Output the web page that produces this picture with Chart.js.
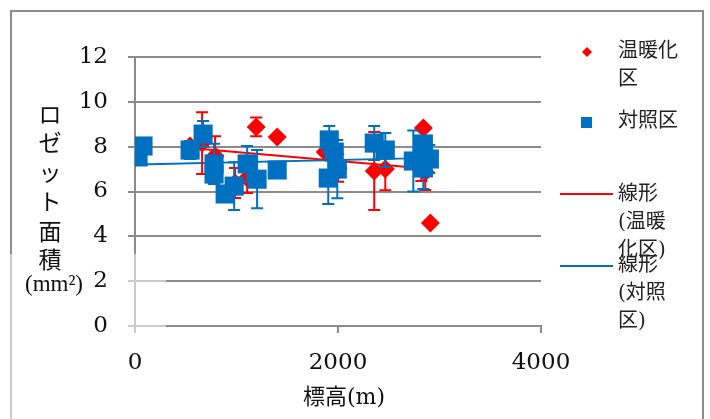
<!DOCTYPE html>
<html>
<head>
<meta charset="utf-8">
<script src="https://cdn.jsdelivr.net/npm/chart.js@4"></script>
<style>
html,body{margin:0;padding:0;background:#fff;}
canvas{display:block;}
</style>
</head>
<body>
<canvas id="c" width="710" height="419"></canvas>
<script>
// ---- data ----
const warmX   = [543, 661, 789, 986, 1105, 1194, 1401, 1874, 2002, 2357, 2466, 2841, 2821, 2860, 2910];
const warmY   = [8.03, 8.16, 7.58, 6.38, 6.60, 8.88, 8.43, 7.76, 7.05, 6.91, 7.00, 8.83, 7.05, 6.87, 4.59];
const warmErr = [0, 1.38, 0.89, 0.67, 0.67, 0.42, 0, 0, 0.62, 1.74, 0.94, 0, 0.58, 0.80, 0];

const ctrlX   = [30, 79, 543, 671, 779, 779, 888, 977, 1105, 1203, 1401, 1914, 1963, 1993, 1904, 2357, 2466, 2742, 2841, 2900, 2841];
const ctrlY   = [7.54, 8.03, 7.85, 8.56, 7.23, 6.78, 5.89, 6.24, 7.23, 6.55, 6.96, 8.30, 7.76, 7.00, 6.60, 8.16, 7.85, 7.36, 8.12, 7.45, 7.05];
const ctrlErr = [0, 0, 0.40, 0.58, 0.90, 0, 0, 1.07, 0.80, 1.30, 0, 0.62, 0, 1.30, 1.16, 0.76, 0.76, 1.36, 0, 0.62, 0.94];

const trendWarmX = [543, 2910];
const trendWarmY = [7.94, 7.00];
const trendCtrlX = [30, 2930];
const trendCtrlY = [7.20, 7.50];

const xTicks = [0, 2000, 4000];
const yTicks = [0, 2, 4, 6, 8, 10, 12];

const yTitleChars = ['ロ', 'ゼ', 'ッ', 'ト', '面', '積'];
const yTitleUnit = '(mm²)';
const xTitle = '標高(m)';
const legendWarm = ['温暖化', '区'];
const legendCtrl = ['対照区'];
const legendTrendWarm = ['線形', '(温暖', '化区)'];
const legendTrendCtrl = ['線形', '(対照', '区)'];

const RED = '#FF0000';
const BLUE = '#0070C0';
const GRID = '#8c8c8c';
const SERIF = "'DejaVu Serif', 'Noto Sans CJK JP'";
const LEG = "'DejaVu Serif', 'Noto Sans CJK JP'";

const pts = (xs, ys) => xs.map((x, i) => ({x: x, y: ys[i]}));

const errorBars = {
  id: 'errorBars',
  afterDatasetDraw(chart, args) {
    const ds = chart.data.datasets[args.index];
    if (!ds.errors) return;
    const xs = chart.scales.x, ys = chart.scales.y, ctx = chart.ctx;
    ctx.save();
    ctx.strokeStyle = ds.errColor;
    ctx.lineWidth = 2;
    ctx.beginPath();
    ds.data.forEach((p, i) => {
      const e = ds.errors[i];
      if (!e) return;
      const x = xs.getPixelForValue(p.x);
      const y1 = ys.getPixelForValue(p.y + e);
      const y2 = ys.getPixelForValue(p.y - e);
      ctx.moveTo(x, y1); ctx.lineTo(x, y2);
      ctx.moveTo(x - 6, y1); ctx.lineTo(x + 6, y1);
      ctx.moveTo(x - 6, y2); ctx.lineTo(x + 6, y2);
    });
    ctx.stroke();
    ctx.restore();
  }
};

const frame = {
  id: 'frame',
  beforeDraw(chart) {
    const ctx = chart.ctx;
    ctx.save();
    ctx.fillStyle = '#fff';
    ctx.fillRect(0, 0, chart.width, chart.height);
    ctx.strokeStyle = GRID;
    ctx.lineWidth = 2;
    ctx.strokeRect(11, 11, 692, 420);
    ctx.restore();
  },
  afterDraw(chart) {
    const ctx = chart.ctx;
    ctx.save();
    // translucent box over lower-left lines (as in the reference)
    ctx.fillStyle = 'rgba(255,255,255,0.55)';
    ctx.fillRect(118, 254, 48, 86);
    ctx.fillRect(4, 254, 13, 170);

    ctx.fillStyle = '#111';
    // y title, stacked vertically
    ctx.textAlign = 'center';
    ctx.textBaseline = 'middle';
    ctx.font = "23px 'Noto Sans CJK JP'";
    const yc = [114, 142, 172, 201, 231, 259];
    yTitleChars.forEach((ch, i) => ctx.fillText(ch, 50, yc[i]));
    ctx.font = "23px 'Liberation Serif'";
    ctx.fillText(yTitleUnit, 54, 285);
    // x title
    ctx.font = "22px " + SERIF;
    ctx.fillText(xTitle, 344, 398);

    // legend
    ctx.font = "20px " + LEG;
    ctx.textAlign = 'left';
    ctx.fillStyle = '#222';
    const tx = 618;
    legendWarm.forEach((t, i) => ctx.fillText(t, tx, 52 + i * 28));
    legendCtrl.forEach((t, i) => ctx.fillText(t, tx, 122 + i * 28));
    legendTrendWarm.forEach((t, i) => ctx.fillText(t, tx, 195 + i * 28));
    legendTrendCtrl.forEach((t, i) => ctx.fillText(t, tx, 266 + i * 28));
    // legend markers
    ctx.fillStyle = RED;
    ctx.beginPath();
    ctx.moveTo(587, 47); ctx.lineTo(592, 52); ctx.lineTo(587, 57); ctx.lineTo(582, 52);
    ctx.closePath(); ctx.fill();
    ctx.fillStyle = BLUE;
    ctx.fillRect(581, 117, 11, 11);
    ctx.lineWidth = 2;
    ctx.strokeStyle = RED;
    ctx.beginPath(); ctx.moveTo(560, 194); ctx.lineTo(613, 194); ctx.stroke();
    ctx.strokeStyle = BLUE;
    ctx.beginPath(); ctx.moveTo(560, 266); ctx.lineTo(613, 266); ctx.stroke();
    ctx.restore();
  }
};

new Chart(document.getElementById('c'), {
  type: 'scatter',
  data: {
    datasets: [
      {
        label: legendWarm.join(''),
        data: pts(warmX, warmY),
        errors: warmErr, errColor: RED,
        pointStyle: 'rectRot', pointRadius: 9.5, pointHoverRadius: 9.5,
        backgroundColor: RED, borderColor: RED, borderWidth: 0,
        order: 2
      },
      {
        label: legendCtrl.join(''),
        data: pts(ctrlX, ctrlY),
        errors: ctrlErr, errColor: BLUE,
        pointStyle: 'rect', pointRadius: 13.5, pointHoverRadius: 13.5,
        backgroundColor: BLUE, borderColor: BLUE, borderWidth: 0,
        order: 1
      },
      {
        label: legendTrendWarm.join(''),
        type: 'line',
        data: pts(trendWarmX, trendWarmY),
        borderColor: RED, borderWidth: 2, pointRadius: 0, fill: false,
        order: 4
      },
      {
        label: legendTrendCtrl.join(''),
        type: 'line',
        data: pts(trendCtrlX, trendCtrlY),
        borderColor: BLUE, borderWidth: 2, pointRadius: 0, fill: false,
        order: 3
      }
    ]
  },
  options: {
    responsive: false,
    animation: false,
    devicePixelRatio: 1,
    layout: {padding: {top: 57, right: 169, left: 0, bottom: 0}},
    plugins: {legend: {display: false}, tooltip: {enabled: false}},
    events: [],
    scales: {
      x: {
        type: 'linear', min: 0, max: 4000,
        afterBuildTicks: s => { s.ticks = xTicks.map(v => ({value: v})); },
        ticks: {color: '#111', font: {family: SERIF, size: 23}, padding: 16, maxRotation: 0,
                callback: v => String(v)},
        grid: {display: true, drawOnChartArea: false, drawTicks: true, tickLength: 7, color: GRID, lineWidth: 2},
        border: {display: true, color: GRID, width: 2},
        afterFit: s => { s.height = 93; }
      },
      y: {
        min: 0, max: 12,
        afterBuildTicks: s => { s.ticks = yTicks.map(v => ({value: v})); },
        ticks: {color: '#111', font: {family: SERIF, size: 23}, padding: 20,
                callback: v => String(v)},
        grid: {color: GRID, lineWidth: 2, tickLength: 7},
        border: {display: true, color: GRID, width: 2},
        afterFit: s => { s.width = 135; }
      }
    }
  },
  plugins: [frame, errorBars]
});
</script>
</body>
</html>
